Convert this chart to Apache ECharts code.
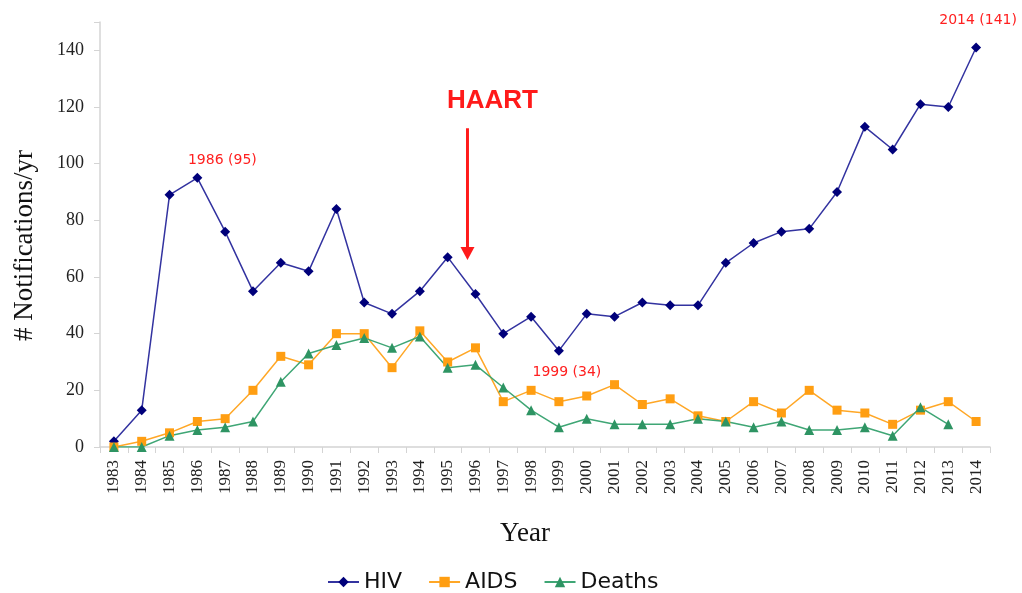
<!DOCTYPE html>
<html>
<head>
<meta charset="utf-8">
<script src="https://cdn.jsdelivr.net/npm/echarts@6/dist/echarts.min.js"></script>
<style>
    html, body { margin: 0; padding: 0; background: #fff; }
    #chart { width: 1022px; height: 593px; }
</style>
</head>
<body>
<div id="chart"></div>
<script>
const years = ['1983', '1984', '1985', '1986', '1987', '1988', '1989', '1990', '1991', '1992', '1993',
    '1994', '1995', '1996', '1997', '1998', '1999', '2000', '2001', '2002', '2003', '2004', '2005',
    '2006', '2007', '2008', '2009', '2010', '2011', '2012', '2013', '2014']

const hiv = [2, 13, 89, 95, 76, 55, 65, 62, 84, 51, 47, 55, 67, 54, 40, 46, 34, 47, 46, 51, 50, 50,
    65, 72, 76, 77, 90, 113, 105, 121, 120, 141]
const aids = [0, 2, 5, 9, 10, 20, 32, 29, 40, 40, 28, 41, 30, 35, 16, 20, 16, 18, 22, 15, 17, 11,
    9, 16, 12, 20, 13, 12, 8, 13, 16, 9]
const deaths = [0, 0, 4, 6, 7, 9, 23, 33, 36, 38.5, 35, 39, 28, 29, 21, 13, 7, 10, 8, 8, 8, 10,
    9, 7, 9, 6, 6, 7, 4, 14, 8, null]

// 标注文字
const notes = [
    { year: '1986', value: 95, text: '1986 (95)', offset: [25, -17] },
    { year: '1999', value: 34, text: '1999 (34)', offset: [8, 22] },
    { year: '2014', value: 141, text: '2014 (141)', offset: [2, -27] },
]
const haartYear = '1996'
const haartRange = [112.5, 66]

const serif = '"Liberation Serif", "Times New Roman", serif'
const sans = '"DejaVu Sans", sans-serif'
const axisGray = '#d4d4d4'

const chart = echarts.init(document.getElementById('chart'))

const option = {
    backgroundColor: '#fff',
    animation: false,
    grid: { left: 100, right: 32, top: 22, bottom: 146 },
    legend: {
        left: 322,
        top: 566,
        itemWidth: 31,
        itemHeight: 13,
        itemGap: 26,
        textStyle: { fontFamily: sans, fontSize: 22, color: '#111' },
        data: ['HIV', 'AIDS', 'Deaths'],
    },
    xAxis: {
        type: 'category',
        data: years,
        boundaryGap: true,
        name: 'Year',
        nameLocation: 'middle',
        nameGap: 73,
        nameTextStyle: { fontFamily: serif, fontSize: 27, color: '#111', padding: [0, 40, 0, 0] },
        axisLine: { lineStyle: { color: axisGray, width: 1.5 } },
        axisTick: { show: true, interval: 0, length: 6, lineStyle: { color: axisGray } },
        axisLabel: {
            interval: 0,
            rotate: 90,
            margin: 13,
            fontFamily: serif,
            fontSize: 17,
            color: '#222',
        },
        splitLine: { show: false },
    },
    yAxis: {
        type: 'value',
        min: 0,
        max: 150,
        interval: 20,
        name: '# Notifications/yr',
        nameLocation: 'middle',
        nameGap: 62,
        nameTextStyle: { fontFamily: serif, fontSize: 27, color: '#111', padding: [0, 22, 0, 0] },
        axisLine: { show: true, lineStyle: { color: axisGray, width: 1.5 } },
        axisTick: { show: true, length: 6, lineStyle: { color: axisGray } },
        axisLabel: {
            margin: 16,
            fontFamily: serif,
            fontSize: 18,
            color: '#222',
            formatter: (v) => (v % 20 === 0 ? String(v) : ''),
        },
        splitLine: { show: false },
    },
    series: [
        {
            name: 'HIV',
            type: 'line',
            data: hiv,
            symbol: 'diamond',
            symbolSize: 10,
            lineStyle: { color: '#3333a0', width: 1.5 },
            itemStyle: { color: '#00007a' },
            markPoint: {
                symbol: 'circle',
                symbolSize: 0,
                label: {
                    show: true,
                    position: 'inside',
                    color: '#ff2020',
                    fontFamily: sans,
                    fontSize: 14,
                },
                data: notes.map((n) => ({
                    coord: [n.year, n.value],
                    label: { formatter: n.text, offset: n.offset },
                })),
            },
        },
        {
            name: 'AIDS',
            type: 'line',
            data: aids,
            symbol: 'rect',
            symbolSize: 9,
            lineStyle: { color: '#ffa726', width: 1.5 },
            itemStyle: { color: '#ff9e12' },
        },
        {
            name: 'Deaths',
            type: 'line',
            data: deaths,
            symbol: 'triangle',
            symbolSize: 10,
            lineStyle: { color: '#3fa675', width: 1.5 },
            itemStyle: { color: '#2e9463' },
        },
    ],
}

chart.setOption(option)

// HAART 箭头，位置跟随坐标轴换算
const arrowTop = chart.convertToPixel({ gridIndex: 0 }, [haartYear, haartRange[0]])
const arrowBot = chart.convertToPixel({ gridIndex: 0 }, [haartYear, haartRange[1]])
const ax = arrowTop[0] - 8
chart.setOption({
    graphic: [
        {
            type: 'line',
            shape: { x1: ax, y1: arrowTop[1], x2: ax, y2: arrowBot[1] - 10 },
            style: { stroke: '#ff1a1a', lineWidth: 3 },
        },
        {
            type: 'polygon',
            shape: { points: [[ax - 7, arrowBot[1] - 13], [ax + 7, arrowBot[1] - 13], [ax, arrowBot[1]]] },
            style: { fill: '#ff1a1a' },
        },
        {
            type: 'text',
            x: ax + 25,
            y: arrowTop[1] - 27,
            style: {
                text: 'HAART',
                fill: '#ff1a1a',
                font: 'bold 26px "Liberation Sans", Arial, sans-serif',
                align: 'center',
                verticalAlign: 'middle',
            },
        },
    ],
})
</script>
</body>
</html>
